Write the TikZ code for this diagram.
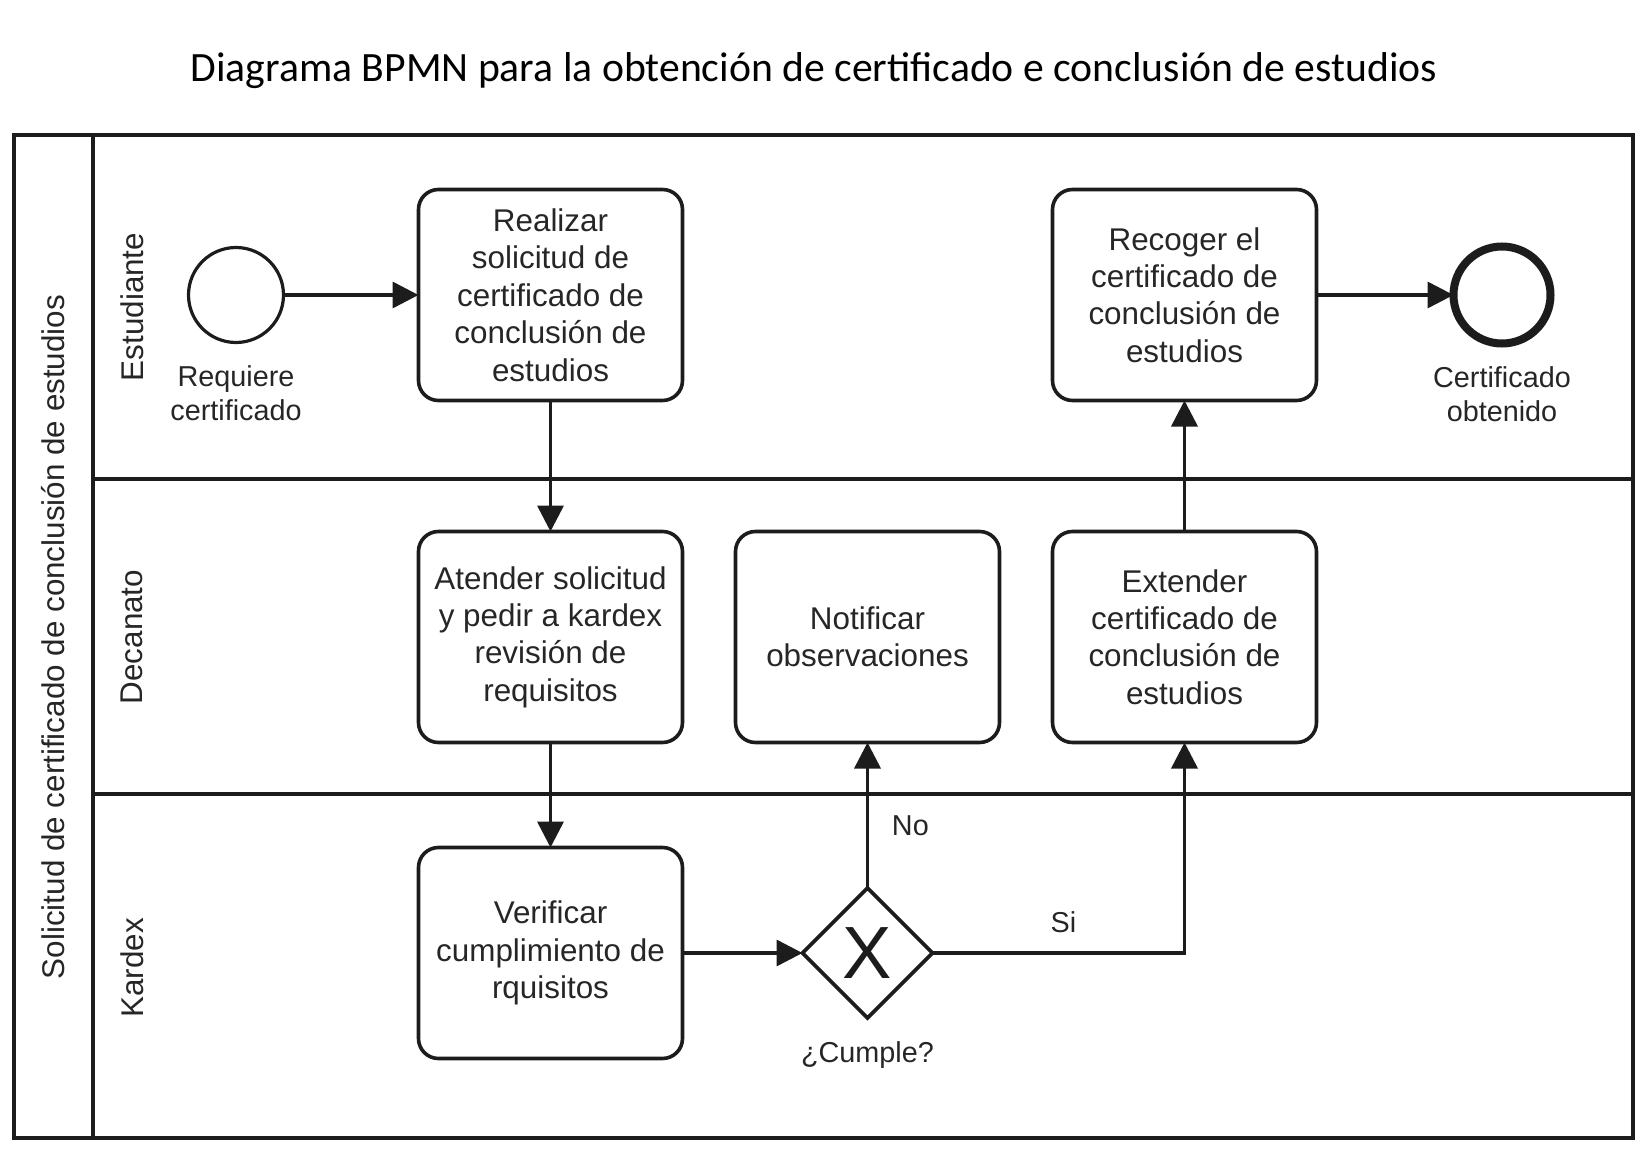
\documentclass[tikz,border=0pt]{standalone}
\usepackage{fontspec}
\setmainfont{Liberation Sans}
\newfontfamily\titlefont{Carlito}
\usetikzlibrary{arrows.meta, positioning, shapes.geometric}
\definecolor{ink}{HTML}{262626}
\definecolor{stroke}{HTML}{1C1C1C}

\begin{document}
\begin{tikzpicture}[
    x=0.5pt, y=-0.5pt,
    task/.style={draw=stroke, line width=1.8pt, rounded corners=10pt, minimum width=132pt, minimum height=105.5pt, align=center, text=ink, font=\fontsize{15.7}{18.7}\selectfont, inner sep=2pt, outer sep=0pt},
    startev/.style={draw=stroke, circle, line width=1.6pt, minimum size=47.5pt, inner sep=0pt, outer sep=0pt},
    endev/.style={draw=stroke, circle, line width=4pt, minimum size=48.5pt, inner sep=0pt, outer sep=0pt},
    gateway/.style={draw=stroke, diamond, line width=1.8pt, minimum width=65pt, minimum height=65pt, inner sep=0pt, outer sep=0pt, text=stroke, font=\fontsize{37}{37}\selectfont},
    evlabel/.style={align=center, text=ink, font=\fontsize{14.4}{17}\selectfont},
    lanelabel/.style={rotate=90, text=ink, font=\fontsize{15.7}{18}\selectfont},
    lane/.style={draw=stroke, line width=2.2pt},
    arrow/.style={-{Triangle[length=13pt, width=13pt]}, draw=stroke, line width=1.8pt}
]
    \useasboundingbox (0,0) rectangle (1650,1155);

    % Title
    \node[font=\titlefont\fontsize{20.85}{24}\selectfont] (titulo) at (814,71) {Diagrama BPMN para la obtención de certificado e conclusión de estudios};

    % Pool and lanes
    \draw[lane] (14,135) rectangle (1633,1138);
    \draw[lane] (93,135) -- (93,1138);
    \draw[lane] (93,479) -- (1633,479);
    \draw[lane] (93,794) -- (1633,794);
    \node[lanelabel] (pool) at (53,637) {Solicitud de certificado de conclusión de estudios};
    \node[lanelabel] (estudiante) at (132,307) {Estudiante};
    \node[lanelabel] (decanato) at (132,637) {Decanato};
    \node[lanelabel] (kardex) at (132,968) {Kardex};

    % Estudiante
    \node[startev] (inicio) at (236,295) {};
    \node[evlabel, below=8pt of inicio] (inicio_lbl) {Requiere\\certificado};
    \node[task, right=67.5pt of inicio] (realizar) {Realizar\\solicitud de\\certificado de\\conclusión de\\estudios};

    % Decanato
    \node[task, below=65.5pt of realizar] (atender) {Atender solicitud\\y pedir a kardex\\revisión de\\requisitos};
    \node[task, right=26.5pt of atender] (notificar) {Notificar\\observaciones};
    \node[task, right=26.5pt of notificar] (extender) {Extender\\certificado de\\conclusión de\\estudios};

    % Recoger and end event
    \node[task, above=65.5pt of extender] (recoger) {Recoger el\\certificado de\\conclusión de\\estudios};
    \node[endev, right=68.5pt of recoger] (fin) {};
    \node[evlabel, below=8pt of fin] (fin_lbl) {Certificado\\obtenido};

    % Kardex
    \node[task, below=52.5pt of atender] (verificar) {Verificar\\cumplimiento de\\rquisitos};
    \node[gateway] (cumple) at (notificar |- verificar) {X};
    \node[evlabel, below=8.5pt of cumple] (cumple_lbl) {¿Cumple?};

    % Arrows
    \draw[arrow] (inicio) -- (realizar);
    \draw[arrow] (realizar) -- (atender);
    \draw[arrow] (atender) -- (verificar);
    \draw[arrow] (verificar) -- (cumple);
    \draw[arrow] (cumple) -- node[evlabel, right, pos=0.43, xshift=8pt] (no_lbl) {No} (notificar);
    \draw[arrow] (cumple) -| node[evlabel, above, pos=0.25, xshift=2.5pt, yshift=6pt] (si_lbl) {Si} (extender);
    \draw[arrow] (extender) -- (recoger);
    \draw[arrow] (recoger) -- (fin);
\end{tikzpicture}
\end{document}
